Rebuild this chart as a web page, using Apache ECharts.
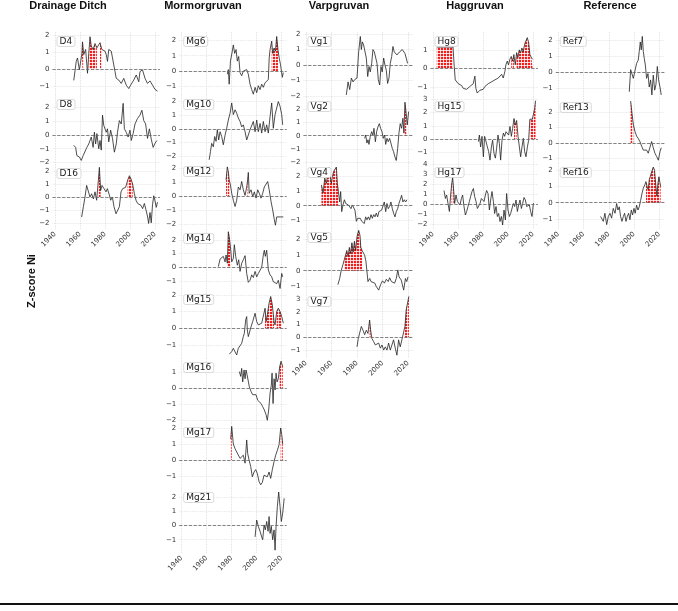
<!DOCTYPE html>
<html>
<head>
<meta charset="utf-8">
<script src="https://cdn.jsdelivr.net/npm/echarts@6/dist/echarts.min.js"></script>
<style>
html,body{margin:0;padding:0;background:#fff;}
#chart{width:678px;height:611px;}
</style>
</head>
<body>
<div id="chart"></div>
<script>
/********** data: [year, z-score] **********/
var D4 = [[1955,-0.67],[1957,0.45],[1958,0.65],[1959.5,-0.05],[1961.5,0.9],[1962,1.6],[1963,0.85],[1964.5,1.15],[1966,-0.25],[1967,0.9],[1968,1.9],[1969,1.35],[1970.5,1.15],[1972,1.5],[1973.5,1.25],[1975,1.15],[1976,1.55],[1977.5,1.15],[1980,1.05],[1981,0.85],[1982,0.45],[1983,1.15],[1985,1.05],[1986,0.65],[1988,-0.15],[1989,-0.55],[1991,-0.65],[1993,-0.85],[1995,-0.55],[1997,-0.95],[1999,-1.15],[2000.5,-0.95],[2003,-0.65],[2005,-0.35],[2007,-0.75],[2008,-0.15],[2010,-0.05],[2012,-0.55],[2014,-0.85],[2016,-0.7],[2018,-0.95],[2020,-1.2],[2022,-1.3]];
var D8 = [[1955,-0.75],[1956.5,-0.9],[1957.5,-1.5],[1959.5,-1.6],[1961,-1.85],[1962.5,-1.5],[1964,-1.6],[1965.5,-0.9],[1967,-0.65],[1969,-0.15],[1970.5,-0.9],[1971.5,0.2],[1972.5,-0.65],[1973.5,0.1],[1975,-1.0],[1976,-0.4],[1977,-1.1],[1978,1.45],[1979,0.7],[1981,0.2],[1982,0.45],[1983,-0.5],[1984.5,0.35],[1986,-0.25],[1987.5,-1.25],[1989,-0.65],[1990,0.2],[1991.5,1.05],[1993,0.8],[1994.5,2.3],[1995.5,0.45],[1997,0.2],[1998.5,-0.15],[2000,0.35],[2001,-0.4],[2002.5,0.1],[2004,0.8],[2006,1.2],[2008,1.45],[2009.5,1.8],[2011,1.05],[2012.5,0.8],[2014,-0.25],[2015.5,0.45],[2017,-0.3],[2018.5,-0.9],[2020,-0.6],[2021.5,-0.4]];
var D16 = [[1961.3,-1.55],[1962.7,-0.75],[1964,0],[1965.3,0.9],[1966.7,0.75],[1968,0],[1969.3,0.25],[1970.7,-0.15],[1972,0.4],[1973.3,-0.25],[1974.7,1.3],[1975.5,2.3],[1976.5,0.5],[1977.6,0.9],[1979.2,0.65],[1980.8,0.4],[1981.9,0.65],[1983.5,0.15],[1984.5,-0.25],[1985.9,0],[1987.2,-0.75],[1988.8,-1.3],[1989.9,-1.4],[1991.5,-0.75],[1992.8,0.4],[1994.1,0.65],[1995.2,0.5],[1996.5,0.75],[1998.1,1.3],[1999.5,1.65],[2000.8,1.4],[2002.1,1.0],[2003.5,0.25],[2004.8,-0.25],[2006.1,-0.5],[2007.5,-0.4],[2008.8,-0.65],[2010.1,-0.9],[2011.5,-0.5],[2012.8,-1.0],[2014.1,-1.55],[2014.9,-2.05],[2016,-1.2],[2017,-2.0],[2018,-0.6],[2019,0.1],[2020,-0.3],[2021,-0.8],[2022,-0.4]];

var MG6 = [[1976.5,-0.2],[1977.3,0.1],[1978,-0.85],[1979,0.65],[1980.5,1.3],[1981.3,1.7],[1982.4,1.15],[1983.5,1.4],[1984.5,0.65],[1985.6,0.95],[1986.7,-0.1],[1988,-0.3],[1989.3,0],[1990.7,-0.1],[1992,0.1],[1993.3,-0.2],[1994.7,-0.85],[1996,-1.2],[1997.3,-1.5],[1998.7,-1.05],[2000,-1.4],[2001.3,-0.95],[2002.7,-1.2],[2004,-0.85],[2005.3,-1.05],[2006.7,-0.75],[2008,-0.85],[2009.3,-0.55],[2010,0.85],[2010.7,1.4],[2012,1.95],[2012.8,1.15],[2013.9,1.5],[2015,1.3],[2016,2.25],[2017,1.4],[2018,0.85],[2019,0.45],[2020.5,-0.4],[2021.3,-0.1]];
var MG10 = [[1962,-2.25],[1963,-1.65],[1964,-1.05],[1965.3,-1.3],[1966.4,-0.55],[1967.5,-0.9],[1968.5,-0.05],[1969.6,-0.8],[1970.7,-0.2],[1972,-0.55],[1973.3,-1.15],[1974.7,-0.45],[1976,0.05],[1977.3,0.65],[1978.7,1.15],[1980,1.9],[1981.3,1.05],[1982.7,1.4],[1984,1.15],[1985.3,0.8],[1986.7,0.55],[1988,0.15],[1989.3,0.3],[1990.7,-0.2],[1992,-0.8],[1993.3,-0.7],[1994.7,-0.05],[1996,0.05],[1997.3,0.55],[1998.7,-0.2],[2000,0.65],[2001.3,-0.2],[2002.7,0.4],[2004,-0.3],[2005.3,0.55],[2006.7,-0.2],[2008,0.3],[2009.3,-0.3],[2010.7,0.9],[2012,1.9],[2013.3,0.05],[2014.7,1.05],[2016,1.15],[2017.3,2.0],[2018.7,1.65],[2020,1.05],[2020.8,0.3]];
var MG12 = [[1975.5,1.15],[1976.5,2.1],[1977.3,1.75],[1978,1.15],[1979,0.8],[1980,0.2],[1981.3,-0.3],[1982.7,-0.75],[1984,-0.3],[1985.3,0.65],[1986.7,0.45],[1988,1.05],[1989.3,0.45],[1990.7,0.05],[1992,0.65],[1992.7,1.1],[1993.3,1.7],[1994,0.2],[1995.5,0.45],[1996.8,-0.05],[1998.1,0.3],[1999.5,-0.15],[2000.8,0.45],[2002.1,0.2],[2003.5,-0.15],[2004.8,0.2],[2006.1,0.65],[2007.5,0.55],[2008.8,1.05],[2010,0.45],[2011.5,-0.4],[2012.8,-1.0],[2014.1,-1.7],[2015,-2.1],[2016,-1.5],[2017.3,-1.6],[2018.7,-1.5],[2020,-1.6],[2021.3,-1.5]];
var MG14 = [[1969.3,0.05],[1970.7,0.6],[1972,0.65],[1973.3,0.8],[1974.7,0.4],[1975.5,0.9],[1976.5,0.3],[1977.3,2.6],[1978,2.25],[1979,1.5],[1980,0.4],[1981.3,0.65],[1982.1,1.65],[1983.2,0.8],[1984.5,0.15],[1985.6,0.55],[1986.7,-0.3],[1988,0.3],[1989.3,0.55],[1990.7,0.85],[1992,-0.45],[1993.3,-1.1],[1994.7,-0.95],[1996,-0.55],[1997.3,-0.75],[1998.7,-0.3],[2000,-0.7],[2001.3,-0.45],[2002.7,-0.55],[2004,0],[2005.3,0.9],[2006.1,1.25],[2006.9,0.8],[2008,1.25],[2009.3,-0.2],[2010.7,-0.55],[2012,-0.7],[2013.3,-1.05],[2014.7,-0.95],[2016,-1.2],[2017.3,-0.95],[2018.7,-1.55],[2020,-0.45],[2020.8,-0.7]];
var MG15 = [[1978.1,-1.55],[1980,-1.4],[1981.3,-1.2],[1982.7,-1.3],[1984,-1.6],[1985.3,-1.2],[1986.7,-1.1],[1988,-0.9],[1989.3,-0.5],[1990.1,-0.3],[1991.2,0.5],[1992,0.7],[1992.5,-0.1],[1993.3,-0.5],[1994.7,-0.4],[1995.5,0.1],[1996.8,0.4],[1998.7,0.9],[2000,0.4],[2001.3,0.2],[2002.7,0.1],[2004,0.3],[2005.3,0.4],[2006.7,1.2],[2007.5,0.4],[2008.5,0.8],[2009.9,1.5],[2011.2,1.9],[2012.5,1.4],[2013.9,0.4],[2014.7,0.2],[2016,1.0],[2017.3,1.2],[2018.7,1.0],[2020,0.7],[2021.3,0.3]];
var MG16 = [[1986.1,1.05],[1987.2,0.75],[1988,1.25],[1988.8,0.4],[1989.9,1.15],[1990.7,0.6],[1991.5,1.15],[1992.3,0.85],[1993.3,0.95],[1994.1,0.1],[1995.5,-0.2],[1996.8,-0.4],[1998.1,-0.3],[1999.5,-0.4],[2000.8,-0.75],[2002.1,-0.85],[2003.5,-0.95],[2004.8,-1.15],[2006.1,-1.35],[2007.5,-1.65],[2008.5,-2.0],[2009.6,-1.35],[2010.7,-0.3],[2011.7,0.2],[2012.3,0.95],[2013.1,-0.95],[2013.9,0.6],[2014.7,-0.1],[2015.5,0.95],[2016.3,0.4],[2017.3,0.6],[2018.4,1.35],[2019.5,1.7],[2020.8,1.35]];
var MG17 = [[1979.2,1.3],[1980,2.1],[1981.3,1.0],[1982.7,0.7],[1984,0.5],[1985.3,0.4],[1986.7,0.1],[1988,0],[1989.3,0.3],[1990.7,-0.2],[1992,1.25],[1992.8,0.4],[1993.9,0],[1995.2,-0.4],[1996.5,-1.05],[1997.9,-0.75],[1999.2,-0.6],[2000.5,-0.85],[2001.9,-1.35],[2003.2,-1.55],[2004.5,-1.4],[2005.9,-0.95],[2007.2,-0.85],[2008.5,-1.05],[2009.9,-0.75],[2011.2,-1.15],[2012.5,-0.6],[2013.9,-0.1],[2015.2,0.3],[2016.5,0.6],[2017.9,0.95],[2019.2,2.0],[2020,1.6],[2020.8,1.0]];
var MG21 = [[1998.7,-0.8],[2000,0.4],[2001.3,-0.05],[2002.7,-0.4],[2004,-0.8],[2004.8,-1.0],[2005.9,0.05],[2006.9,-0.3],[2008,0.3],[2009.1,-0.4],[2009.9,0.65],[2010.7,-0.55],[2011.7,-0.05],[2012.8,-1.0],[2013.9,-0.3],[2014.7,-1.75],[2015.5,-0.05],[2016.5,1.35],[2017.6,2.4],[2018.7,1.35],[2019.7,0.3],[2020.8,0.9],[2022,1.95]];

var VG1 = [[1971.6,-1.95],[1973,-1.1],[1974.3,-1.6],[1975.6,-0.85],[1976.9,-1.1],[1978.2,-0.95],[1980,-0.85],[1981.3,0.85],[1982.6,1.85],[1983.4,1.0],[1984.2,1.5],[1985.2,1.3],[1986.3,1.4],[1987.3,0.45],[1988.4,-0.75],[1989.4,-0.1],[1990.4,-0.45],[1991.5,0.1],[1992.5,1.0],[1993.6,0.85],[1994.6,0.75],[1995.7,0.1],[1996.7,-0.95],[1997.8,-1.3],[1998.8,-0.1],[1999.8,-0.45],[2000.9,0.45],[2001.9,0],[2003,-0.35],[2004,-1.2],[2005.1,-0.85],[2006.1,0.1],[2007.2,0.55],[2008.2,1.2],[2009.2,0.85],[2010.3,0.75],[2011.3,0.65],[2012.4,0.75],[2013.4,0.85],[2014.5,0.75],[2015.5,1.0],[2016.6,1.05],[2017.6,0.75],[2018.6,0.65],[2019.7,0.1]];
var VG2 = [[1986,-0.2],[1986.8,0.05],[1987.8,-0.55],[1988.6,-0.3],[1989.4,-0.65],[1990.4,-0.05],[1991.5,0.3],[1992.5,0.05],[1993.3,0.55],[1994.4,-0.45],[1995.4,0.3],[1996.4,0.65],[1997.5,0.9],[1998.5,0.55],[1999.6,0.3],[2000.6,-0.2],[2001.7,0.05],[2002.5,-0.65],[2003.5,-0.2],[2004.5,-0.45],[2005.6,-0.2],[2006.6,-0.3],[2007.7,-0.95],[2008.7,-1.2],[2009.8,-1.6],[2010.8,-1.85],[2011.9,-0.95],[2012.9,0.2],[2013.9,0.9],[2015,0.55],[2016,1.3],[2016.8,0.2],[2017.6,2.5],[2018.6,1.65],[2019.4,0.8],[2020.5,1.8]];
var VG4 = [[1952.1,1.4],[1953.4,0.85],[1954.7,1.85],[1956,1.5],[1957.3,2.3],[1958.1,2.6],[1959.1,1.95],[1959.9,1.5],[1960.7,1.95],[1961.7,2.3],[1962.8,2.4],[1963.8,2.6],[1964.6,1.5],[1965.4,0.95],[1966.4,0.25],[1967.2,0.95],[1968,-0.4],[1969,0.05],[1970.1,0.4],[1971.1,0.15],[1972.2,0.25],[1973.2,0.05],[1974.3,0.15],[1975.3,-0.2],[1976.3,0.05],[1977.4,0.15],[1978.4,-0.3],[1979.5,-1.05],[1980.5,-0.85],[1981.6,-0.95],[1982.6,-0.85],[1983.7,-1.05],[1984.7,-0.95],[1985.7,-1.2],[1986.8,-0.75],[1987.8,-0.95],[1988.9,-0.75],[1989.9,-0.95],[1991,-0.6],[1992,-0.85],[1993.1,-0.6],[1994.1,-0.75],[1995.1,-0.5],[1996.2,-0.75],[1997.2,-0.4],[1998.3,-0.5],[1999.3,-0.3],[2000.4,-0.2],[2001.4,0.25],[2002.5,-0.4],[2003.5,0.15],[2004.5,-0.2],[2005.6,-0.05],[2006.6,0.25],[2007.7,-0.2],[2008.7,-0.5],[2009.8,-0.75],[2010.8,-0.4],[2011.9,-0.2],[2012.9,0.15],[2013.9,0.4],[2015,0.7],[2016,0.25],[2017.1,0.4],[2018.1,0.25],[2019.2,0.4]];
var VG5 = [[1965,-0.9],[1966.4,-0.5],[1967.7,0.05],[1969,0.4],[1970,0.7],[1971,1.0],[1972,1.3],[1973,0.9],[1974,1.5],[1975,1.1],[1976,1.8],[1977,1.2],[1978,1.9],[1979,1.3],[1980,2.2],[1981.3,2.6],[1982.3,2.3],[1983,1.5],[1984,1.3],[1985,1.2],[1986,1.0],[1987,0.6],[1988.6,-0.7],[1990,-0.5],[1991,-0.7],[1992.5,-0.6],[1994,-0.8],[1995,-1.0],[1997,-1.25],[1998.5,-0.9],[2000,-0.65],[2001.5,-0.8],[2003,-0.55],[2004.5,-0.7],[2005.6,-0.45],[2007,-0.7],[2008,-0.6],[2009.5,-0.8],[2010.8,-0.5],[2012,0.05],[2013,-0.4],[2014.7,-0.6],[2016.6,-1.25],[2018,-0.5],[2019,-0.7],[2020,-0.4]];
var VG7 = [[1980,-0.75],[1981,-0.1],[1982.1,-0.1],[1983.4,0.85],[1984.7,0.55],[1986,0.2],[1987.3,0.55],[1988.6,0.3],[1989.9,1.35],[1990.7,0.55],[1991.7,-0.1],[1993.1,-0.35],[1994.4,-0.6],[1995.7,-0.75],[1997,-0.45],[1998.3,-0.85],[1999.6,-0.6],[2000.9,-1.0],[2002.2,-0.75],[2003.5,-1.0],[2004.8,-0.45],[2006.1,-1.0],[2007.4,-0.6],[2008.7,-0.2],[2010,-0.85],[2011.3,-1.4],[2012.6,-0.2],[2013.9,-0.75],[2015.2,-0.2],[2016.6,-0.1],[2017.6,0.85],[2018.6,2.15],[2019.7,2.25],[2020.7,3.2]];

var HG8 = [[1943,1.15],[1949,1.15],[1956,1.15],[1957,0.1],[1957.8,-0.6],[1958.9,-0.7],[1960.2,-0.8],[1961.5,-0.85],[1962.9,-0.9],[1964.2,-1.05],[1965.5,-1.0],[1966.9,-1.1],[1968.2,-1.05],[1969.5,-0.95],[1970.9,-0.85],[1972.2,-0.8],[1973.5,-0.4],[1974.3,-1.05],[1975.4,-1.3],[1976.5,-1.2],[1977.5,-1.15],[1978.9,-1.05],[1980.2,-1.1],[1981.5,-0.95],[1982.9,-1.0],[1984.2,-0.8],[1985.5,-0.85],[1986.9,-0.7],[1988.2,-0.8],[1989.5,-0.6],[1990.9,-0.7],[1992.2,-0.5],[1993.5,-0.6],[1994.9,-0.3],[1996.2,-0.5],[1997.5,-0.15],[1998.3,0.2],[1999.4,0.4],[2000.4,0.2],[2001.5,0.5],[2002.6,0.65],[2003.7,0.4],[2004.7,0.75],[2005.8,0.2],[2006.9,0.85],[2007.9,0.6],[2009,1.0],[2010.1,0.85],[2011.1,1.1],[2012.2,0.9],[2013.3,1.3],[2014.3,1.2],[2015.4,1.65],[2016.5,1.4],[2017.5,0.75],[2018.6,0.6],[2019.7,0.5]];
var HG15 = [[1976.3,-0.2],[1977.1,0.3],[1978.1,-0.6],[1979.2,0.2],[1980.3,-1.35],[1981.3,0.2],[1982.4,0.3],[1983.5,-0.6],[1984.5,-0.95],[1985.6,-1.6],[1986.7,-0.6],[1987.7,-0.1],[1988.8,-1.1],[1989.9,-1.45],[1990.9,-0.7],[1992,0.3],[1993.1,-0.35],[1994.1,-1.6],[1995.2,-0.1],[1996.3,0.45],[1997.3,0.2],[1998.4,0.55],[1999.5,0.7],[2000.5,0.3],[2001.6,0.95],[2002.7,0.2],[2003.7,0.8],[2004.8,1.55],[2005.9,1.05],[2006.9,1.4],[2008,0.2],[2009.1,-0.6],[2010.1,-1.35],[2011.2,-0.6],[2012.3,0.05],[2013.3,-0.95],[2014.4,-1.35],[2015.5,-0.6],[2016.5,-0.1],[2017.5,1.5],[2018.5,1.45],[2019.5,1.5],[2020.5,1.6],[2021.3,2.3],[2022,2.9]];
var HG17 = [[1948.8,1.35],[1949.9,0.55],[1950.9,0.9],[1952,0.05],[1953.1,-0.75],[1954.1,0.9],[1954.9,1.9],[1955.7,2.7],[1956.5,1.4],[1957.3,0.05],[1958.4,0.9],[1959.5,0.25],[1960.5,0.4],[1961.6,-0.1],[1962.7,0.55],[1963.7,0.9],[1964.8,-0.25],[1965.9,-1.1],[1966.9,-0.75],[1968,-0.25],[1969.1,0.25],[1970.1,0.75],[1971.2,1.25],[1972.3,1.55],[1973.3,0.75],[1974.4,0.25],[1975.5,-0.45],[1976.5,-0.25],[1977.6,0.05],[1978.7,0.55],[1979.7,0.75],[1980.8,0.25],[1981.9,0.9],[1982.9,1.35],[1984,1.05],[1985.1,-0.6],[1986.1,0.4],[1987.2,1.25],[1988.3,0.25],[1989.3,-0.95],[1990.4,-0.25],[1991.5,-1.25],[1992.5,-0.95],[1993.6,-1.75],[1994.7,-1.25],[1995.7,-2.1],[1996.8,-0.6],[1997.9,-1.6],[1998.9,1.05],[2000,-0.6],[2001.1,-1.25],[2002.1,-0.95],[2003.2,-0.75],[2004.3,0.05],[2005.3,-0.25],[2006.4,0.4],[2007.5,-0.75],[2008.5,-0.1],[2009.6,0.4],[2010.7,-0.45],[2011.7,0.05],[2012.8,0.65],[2013.9,0.4],[2014.9,-0.25],[2016,-0.45],[2017.1,-0.1],[2018.1,-0.75],[2019.2,-1.25],[2020.3,0.05],[2020.8,0.1]];

var REF7 = [[1996.2,-1.25],[1997.3,0.15],[1998.3,0.25],[1999.4,-0.4],[2000.7,-0.3],[2002,0.55],[2003.3,0.75],[2004.1,1.3],[2004.9,1.9],[2005.7,1.4],[2006.5,2.25],[2007.3,1.3],[2008.1,0.85],[2008.9,0.45],[2009.9,-0.4],[2011,-0.1],[2012,-0.95],[2013.1,-0.5],[2014.1,-1.45],[2015.2,-0.2],[2016.3,-1.15],[2017.3,-0.8],[2018.4,0.35],[2019.4,-0.5],[2020.5,-0.95],[2021.5,-1.45]];
var REF13 = [[1997.3,2.7],[1998.3,1.95],[1999.4,1.2],[2000.7,0.75],[2002,0.45],[2003.3,0.3],[2004.6,0.1],[2006,-0.2],[2007.3,-0.45],[2008.6,-0.55],[2009.9,-0.45],[2011.2,-0.65],[2012.6,-0.55],[2013.9,0.1],[2015.2,-0.3],[2016.5,-0.65],[2017.8,-0.85],[2019.2,-1.1],[2020.5,-0.55],[2021.5,-0.3]];
var REF16 = [[1973.5,-0.85],[1974.6,-0.75],[1975.6,-1.15],[1976.9,-0.65],[1978.3,-1.35],[1979.6,-0.85],[1980.9,-0.65],[1982.2,-0.95],[1983.5,-0.35],[1984.9,-0.65],[1986.2,-0.05],[1987.2,-0.45],[1988.3,-0.25],[1989.3,-0.85],[1990.4,-1.15],[1991.5,-0.85],[1992.5,-0.65],[1993.6,-1.15],[1994.6,-0.85],[1995.7,-0.65],[1996.7,-1.05],[1997.8,-0.45],[1998.8,-0.75],[1999.9,-0.35],[2000.9,-0.65],[2002,-0.15],[2003.1,-0.45],[2004.1,-0.25],[2005.2,0.15],[2006.2,0.55],[2007.3,0.9],[2008.5,1.1],[2009.4,1.3],[2010.3,1.0],[2011.2,0.8],[2012,1.4],[2013.9,1.9],[2015.2,2.2],[2016.2,2.0],[2017.3,1.0],[2018.1,0.4],[2018.9,1.2],[2019.7,1.6],[2021,1.0]];

/********** highlighted (red hatched) periods: [fromYear, toYear] **********/
var D4_RED = [[1961.5,1963],[1967,1973.5],[1975.9,1977.6]];
var D16_RED = [[1974.5,1976.6],[1998,2002.2]];
var MG6_RED = [[2011.9,2017.1]];
var MG12_RED = [[1975.5,1978],[1992.6,1993.4]];
var MG14_RED = [[1976.4,1979.1]];
var MG15_RED = [[2006.6,2008.6],[2009.8,2013.9],[2015.9,2020.1]];
var MG16_RED = [[2018.3,2020.9]];
var MG17_RED = [[1979.1,1980.1],[2019.1,2020.9]];
var VG2_RED = [[2016.7,2018.7]];
var VG4_RED = [[1952,1965.5]];
var VG5_RED = [[1970,1984.5]];
var VG7_RED = [[1989.8,1990.8],[2017.5,2020.8]];
var HG8_RED = [[1943,1956.5],[2002.5,2004.8],[2006.5,2019.8]];
var HG15_RED = [[2004.3,2007.3],[2017,2022]];
var HG17_RED = [[1954.5,1956.6]];
var REF13_RED = [[1997,2000]];
var REF16_RED = [[2009,2021.1]];

var columnTitles = ['Drainage Ditch', 'Mormorgruvan', 'Varpgruvan', 'Haggruvan', 'Reference'];
var panels = [
  {col:0, name:'D4', data:D4, red:D4_RED},
  {col:0, name:'D8', data:D8, red:[]},
  {col:0, name:'D16', data:D16, red:D16_RED},
  {col:1, name:'Mg6', data:MG6, red:MG6_RED},
  {col:1, name:'Mg10', data:MG10, red:[]},
  {col:1, name:'Mg12', data:MG12, red:MG12_RED},
  {col:1, name:'Mg14', data:MG14, red:MG14_RED},
  {col:1, name:'Mg15', data:MG15, red:MG15_RED},
  {col:1, name:'Mg16', data:MG16, red:MG16_RED},
  {col:1, name:'Mg17', data:MG17, red:MG17_RED},
  {col:1, name:'Mg21', data:MG21, red:[]},
  {col:2, name:'Vg1', data:VG1, red:[]},
  {col:2, name:'Vg2', data:VG2, red:VG2_RED},
  {col:2, name:'Vg4', data:VG4, red:VG4_RED},
  {col:2, name:'Vg5', data:VG5, red:VG5_RED},
  {col:2, name:'Vg7', data:VG7, red:VG7_RED},
  {col:3, name:'Hg8', data:HG8, red:HG8_RED},
  {col:3, name:'Hg15', data:HG15, red:HG15_RED},
  {col:3, name:'Hg17', data:HG17, red:HG17_RED},
  {col:4, name:'Ref7', data:REF7, red:[]},
  {col:4, name:'Ref13', data:REF13, red:REF13_RED},
  {col:4, name:'Ref16', data:REF16, red:REF16_RED}
];

/********** layout (pixels) **********/
var X_MIN = 1938, X_MAX = 2024;
// pixel of 1940 and px per year per column, title centre
var colGeo = [
  {x1940:55, pxYr:1.25, titleX:68},
  {x1940:181.7, pxYr:1.25, titleX:203},
  {x1940:306, pxYr:1.275, titleX:339},
  {x1940:433, pxYr:1.25, titleX:475},
  {x1940:558.3, pxYr:1.263, titleX:610}
];
// per panel: top, bottom, y min, y max
var panelGeo = {
  D4:[32,95,-1.53,2.18], D8:[95,164,-2.11,2.91], D16:[164,229,-2.48,2.56],
  Mg6:[32,95,-1.55,2.54], Mg10:[95,162,-2.41,2.48], Mg12:[162,229,-2.37,2.45], Mg14:[229,290,-1.66,2.8],
  Mg15:[290,358,-1.78,2.29], Mg16:[358,423,-2.17,1.9], Mg17:[423,488,-1.75,2.31], Mg21:[488,553,-1.95,2.69],
  Vg1:[32,97,-2.08,2.14], Vg2:[97,163,-2.04,2.89], Vg4:[163,228,-1.5,2.87], Vg5:[228,292,-1.37,2.75], Vg7:[292,358,-1.62,3.54],
  Hg8:[32,97,-1.51,1.95], Hg15:[97,163,-1.82,3.18], Hg17:[163,229,-2.5,4.1],
  Ref7:[32,97,-1.58,2.53], Ref13:[98,163,-1.28,2.9], Ref16:[163,229,-1.62,2.45]
};

// red hatch pattern
function makeHatch() {
  var c = document.createElement('canvas');
  c.width = 3; c.height = 3;
  var g = c.getContext('2d');
  g.fillStyle = '#f21d1d';
  g.fillRect(0, 0, 3, 3);
  g.fillStyle = 'rgba(255,255,255,0.8)';
  g.fillRect(2, 0, 1, 3);
  g.fillRect(0, 2, 3, 1);
  return c;
}
var hatch = makeHatch();

function inRed(year, red) {
  for (var k = 0; k < red.length; k++) {
    if (year >= red[k][0] && year <= red[k][1]) return true;
  }
  return false;
}
function isInt(v) { return Math.abs(v - Math.round(v)) < 1e-6; }
function fmtNum(v) { return v < 0 ? '\u2212' + Math.abs(v) : String(v); }

var grids = [], xAxes = [], yAxes = [], series = [], titles = [];

// last panel of each column gets the x tick labels
var lastInCol = {};
panels.forEach(function (p, i) { lastInCol[p.col] = i; });

panels.forEach(function (p, i) {
  var cg = colGeo[p.col];
  var pg = panelGeo[p.name];
  var left = cg.x1940 - (1940 - X_MIN) * cg.pxYr;
  var width = (X_MAX - X_MIN) * cg.pxYr;
  var isBottom = lastInCol[p.col] === i;

  grids.push({left: left, top: pg[0], width: width, height: pg[1] - pg[0]});

  xAxes.push({
    type: 'value', gridIndex: i, min: X_MIN, max: X_MAX,
    minInterval: 20, maxInterval: 20,
    axisLine: {show: false}, axisTick: {show: false},
    axisLabel: {
      show: isBottom, rotate: 45, fontSize: 7, color: '#333', margin: 4,
      fontFamily: 'DejaVu Sans',
      formatter: function (v) { return (isInt(v) && Math.round(v) % 20 === 0) ? String(Math.round(v)) : ''; }
    },
    splitLine: {show: true, showMinLine: false, showMaxLine: false,
      lineStyle: {color: '#d8d8d8', type: 'dotted', width: 0.8}}
  });

  yAxes.push({
    type: 'value', gridIndex: i, min: pg[2], max: pg[3],
    minInterval: 1, maxInterval: 1,
    axisLine: {show: false}, axisTick: {show: false},
    axisLabel: {
      fontSize: 7, color: '#333', margin: 3, fontFamily: 'DejaVu Sans',
      formatter: function (v) { return isInt(v) ? fmtNum(Math.round(v)) : ''; }
    },
    splitLine: {show: true, showMinLine: false, showMaxLine: false,
      lineStyle: {color: '#e0e0e0', type: 'dotted', width: 0.8}}
  });

  // hatched highlight below the line
  if (p.red.length) {
    series.push({
      type: 'line', xAxisIndex: i, yAxisIndex: i, silent: true,
      showSymbol: false, symbol: 'none', connectNulls: false,
      data: p.data.map(function (d) { return inRed(d[0], p.red) ? [d[0], d[1]] : [d[0], '-']; }),
      lineStyle: {width: 0},
      areaStyle: {color: {image: hatch, repeat: 'repeat'}, opacity: 1},
      z: 1
    });
  }

  series.push({
    type: 'line', xAxisIndex: i, yAxisIndex: i, silent: true,
    showSymbol: false, symbol: 'none',
    data: p.data,
    lineStyle: {color: '#222', width: 0.8},
    markLine: {
      silent: true, symbol: ['none', 'none'], label: {show: false},
      lineStyle: {color: '#666', type: 'dashed', width: 0.8},
      data: [{yAxis: 0}]
    },
    z: 3
  });

  titles.push({
    text: p.name,
    left: left + 4, top: pg[0] + 4,
    padding: [1, 3], backgroundColor: '#fff',
    borderColor: '#d0d0d0', borderWidth: 0.8, borderRadius: 2,
    textStyle: {fontSize: 9, fontWeight: 'normal', color: '#222', fontFamily: 'DejaVu Sans'}
  });
});

var graphics = [];
columnTitles.forEach(function (t, c) {
  graphics.push({
    type: 'text', x: colGeo[c].titleX, y: 6,
    style: {text: t, fill: '#111', font: 'bold 11px "Liberation Sans", Arial, sans-serif',
      textAlign: 'center', textVerticalAlign: 'middle'}
  });
});
graphics.push({
  type: 'text', x: 32, y: 281, rotation: Math.PI / 2,
  style: {text: 'Z-score Ni', fill: '#111', font: 'bold 11px "Liberation Sans", Arial, sans-serif',
    textAlign: 'center', textVerticalAlign: 'middle'}
});
graphics.push({
  type: 'rect', shape: {x: 0, y: 603, width: 678, height: 2},
  style: {fill: '#111'}
});

var myChart = echarts.init(document.getElementById('chart'), null, {renderer: 'canvas'});
myChart.setOption({
  animation: false,
  backgroundColor: '#fff',
  title: titles,
  grid: grids,
  xAxis: xAxes,
  yAxis: yAxes,
  series: series,
  graphic: graphics
});
</script>
</body>
</html>
